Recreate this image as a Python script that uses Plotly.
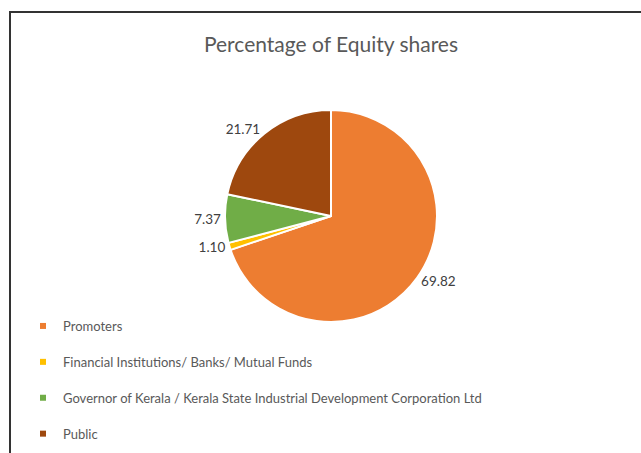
import plotly.graph_objects as go

categories = ["Promoters", "Financial Institutions/ Banks/ Mutual Funds",
              "Governor of Kerala / Kerala State Industrial Development Corporation Ltd", "Public"]
values = [69.82, 1.10, 7.37, 21.71]
colors = ["#ED7D31", "#FFC000", "#70AD47", "#9E480E"]
title_text = "Percentage of Equity shares"

W, H = 641, 453
fig = go.Figure()
fig.add_trace(go.Pie(
    labels=categories, values=values, sort=False, direction="clockwise", rotation=0,
    marker=dict(colors=colors, line=dict(color="white", width=2)),
    textposition="outside", texttemplate="%{value:.2f}",
    textfont=dict(family="Lato", size=13.5, color="#404040"),
    showlegend=False,
    domain=dict(x=[(331 - 140) / W, (331 + 140) / W], y=[1 - 322 / H, 1 - 110 / H]),
))
for i, (c, col) in enumerate(zip(categories, colors)):
    fig.add_trace(go.Scatter(x=[None], y=[None], mode="markers", name=c,
                             legendgroup=str(i),
                             marker=dict(symbol="square", size=6, color=col)))

fig.update_layout(
    width=W, height=H, margin=dict(l=0, r=0, t=0, b=0, autoexpand=False),
    paper_bgcolor="white", plot_bgcolor="white",
    title=dict(text=title_text, x=331 / W, xanchor="center", y=1 - 45 / H, yanchor="middle",
               font=dict(family="Lato", size=21, color="#595959")),
    xaxis=dict(visible=False), yaxis=dict(visible=False),
    legend=dict(x=23 / W, y=1 - 311 / H,
                xanchor="left", yanchor="top", tracegroupgap=16,
                font=dict(family="Lato", size=13, color="#595959"),
                bgcolor="rgba(0,0,0,0)"),
    shapes=[dict(type="rect", xref="paper", yref="paper", x0=10 / W, x1=1.02,
                 y0=-0.02, y1=1 - 12 / H, line=dict(color="#333333", width=2))],
)
fig.write_html("out.html", config={"displayModeBar": False},
               post_script="document.body.style.margin='0';")
